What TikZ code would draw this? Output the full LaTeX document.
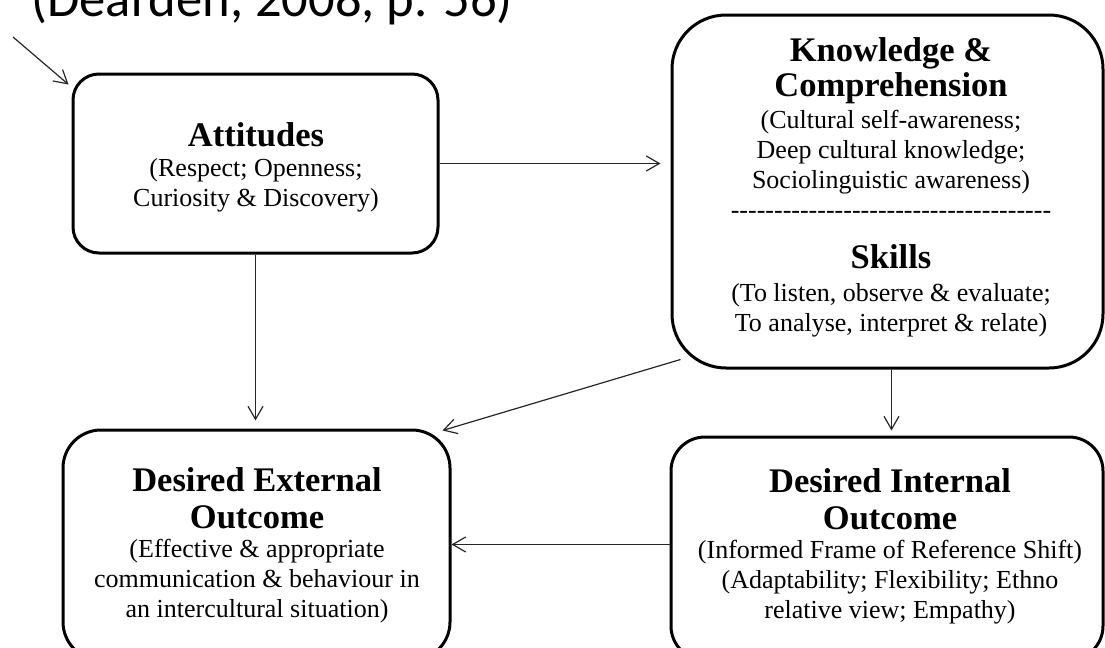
\documentclass[tikz,border=0pt]{standalone}
\usepackage{fontspec}
\setmainfont{Liberation Serif}
\newfontfamily\citefont{Carlito}
\usetikzlibrary{arrows.meta,positioning,fit,calc}

\newcommand{\hd}[1]{{\fontsize{17.25}{17.5}\selectfont\bfseries #1}}
\newcommand{\dashrow}{\foreach \k in {1,...,37}{-\kern0pt}}
\lineskiplimit=-20pt

\begin{document}
\begin{tikzpicture}[
    x=0.5pt, y=-0.5pt,
    every node/.style={font=\fontsize{13}{15}\selectfont},
    card/.style={draw, line width=1.5pt, inner sep=0pt},
    blurb/.style={align=center, inner sep=0pt},
    flow/.style={-{Straight Barb[length=6.5pt,width=7.5pt]}, line width=0.6pt, black!85},
]
    \useasboundingbox (0,0) rectangle (1105,648);
    \clip (0,0) rectangle (1105,648);

    % source line, cut off at the top
    \node[anchor=base west, inner sep=0pt, font=\citefont\fontsize{26.3}{30}\selectfont] (cite) at (31,17) {(Dearden, 2008, p. 56)};

    % boxes
    \node[card, rounded corners=13pt, fit={(73,74) (438,253)}] (att) {};
    \node[card, rounded corners=27pt, fit={(672,15) (1103,368)}] (know) {};
    \node[card, rounded corners=19pt, fit={(63,430) (450,660)}] (ext) {};
    \node[card, rounded corners=17pt, fit={(671,437) (1103,660)}] (int) {};

    % box texts
    \node[blurb] (atttxt) at (256,167) {\hd{Attitudes}\\
        (Respect; Openness;\\
        Curiosity \& Discovery)};
    \node[blurb] (knowtxt) at (891,187) {\hd{Knowledge \&}\\[2.5pt]
        \hd{Comprehension}\\[1pt]
        (Cultural self-awareness;\\
        Deep cultural knowledge;\\
        Sociolinguistic awareness)\\
        \dashrow\\[10pt]
        \hd{Skills}\\[1.5pt]
        (To listen, observe \& evaluate;\\
        To analyse, interpret \& relate)};
    \node[blurb] (exttxt) at (257,545) {\hd{Desired External}\\[3.5pt]
        \hd{Outcome}\\[-0.5pt]
        (Effective \& appropriate\\
        communication \& behaviour in\\
        an intercultural situation)};
    \node[blurb] (inttxt) at (890,546) {\hd{Desired Internal}\\[3.5pt]
        \hd{Outcome}\\[-0.5pt]
        (Informed Frame of Reference Shift)\\
        (Adaptability; Flexibility; Ethno\\
        relative view; Empathy)};

    % connectors
    \coordinate (entry) at (13,37);
    \draw[flow] (entry) -- ($(att.north west)+(-3,12)$);
    \draw[flow] (att.east) -- ($(att.east -| know.west)+(-10,0)$);
    \draw[flow] (att.south) -- ($(att.south |- ext.north)+(0,-8)$);
    \draw[flow] ($(know.south west)+(10,-10)$) -- ($(ext.north east)+(-9,2)$);
    \draw[flow] ($(know.south)+(4,0)$) -- ($(know.south |- int.north)+(4,-5)$);
    \draw[flow] ($(int.west)+(0,-4)$) -- ($(int.west -| ext.east)+(0,-4)$);
\end{tikzpicture}
\end{document}
